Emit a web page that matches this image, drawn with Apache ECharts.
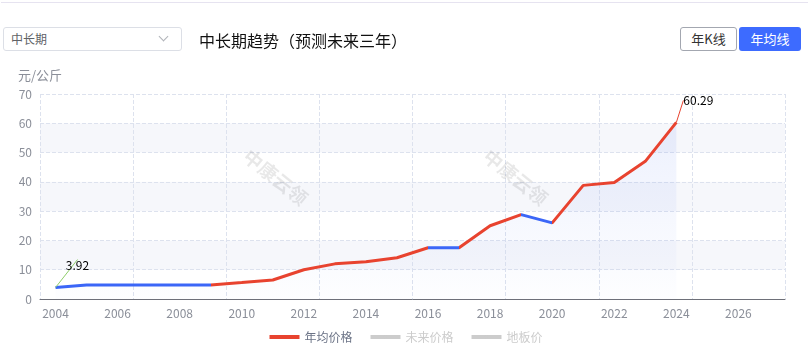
<!DOCTYPE html>
<html lang="zh">
<head>
    <meta charset="utf-8">
    <title>中长期趋势</title>
    <script src="https://cdn.jsdelivr.net/npm/echarts@6/dist/echarts.min.js"></script>
    <style>
        body { margin: 0; width: 810px; height: 354px; position: relative; overflow: hidden;
               font-family: "Noto Sans CJK SC", "Noto Sans", sans-serif; background: #fff; }
        #topline { position: absolute; left: 1px; top: 2px; width: 807px; height: 1px; background: #e6e3f0; }
        #chart { position: absolute; left: 0; top: 0; width: 810px; height: 354px; }
        .sel { position: absolute; left: 3px; top: 27px; width: 170px; height: 22px; border: 1px solid #dcdfe6;
               border-radius: 3px; font-size: 12px; color: #606266; line-height: 22px; padding-left: 7px; z-index: 2; background: #fff; }
        .sel .arrow { position: absolute; right: 14px; top: 5px; width: 6px; height: 6px;
                      border-right: 1px solid #b0b3b9; border-bottom: 1px solid #b0b3b9; transform: rotate(45deg); }
        .title { position: absolute; left: 199px; top: 28px; font-size: 16px; color: #111; z-index: 2; }
        .btn { position: absolute; top: 27px; height: 22px; font-size: 13px; line-height: 22px; text-align: center;
               border-radius: 3px; z-index: 2; }
        .btn1 { left: 680px; width: 55px; border: 1px solid #a3a7b0; color: #333; background: #fff; }
        .btn2 { left: 739px; width: 62px; height: 24px; line-height: 24px; background: #3d6bff; color: #fff; }
    </style>
</head>
<body>
<div id="topline"></div>
<div id="chart"></div>
<div class="sel">中长期<span class="arrow"></span></div>
<div class="title">中长期趋势（预测未来三年）</div>
<div class="btn btn1">年K线</div>
<div class="btn btn2">年均线</div>

<script type="text/javascript">
    // 年份
    var years = ['2004', '2005', '2006', '2007', '2008', '2009', '2010', '2011', '2012', '2013', '2014', '2015',
                 '2016', '2017', '2018', '2019', '2020', '2021', '2022', '2023', '2024', '2025', '2026', '2027'];
    // 年均价格
    var avgPrice = [3.92, 4.8, 4.8, 4.8, 4.8, 4.8, 5.6, 6.5, 10.0, 12.0, 12.7, 14.1,
                    17.5, 17.5, 25.0, 28.8, 26.0, 38.8, 39.8, 47.0, 60.29];
    var futurePrice = [];
    var floorPrice = [];
    var legendNames = ['年均价格', '未来价格', '地板价'];

    var RED = '#e8432f';
    var BLUE = '#3b66f7';

    var myChart = echarts.init(document.getElementById('chart'));

    var avgData = avgPrice.map(function (v, i) {
        if (i === 0 || i === avgPrice.length - 1) {
            return {
                value: v,
                label: { show: true },
                labelLine: { show: true, lineStyle: { color: i === 0 ? '#8fce6a' : RED, width: 1 } }
            };
        }
        return v;
    });

    var wmStyle = { text: '中康云领', fill: 'rgba(0,0,0,0.09)', fontSize: 19, fontWeight: 'bold',
                    fontFamily: '"Noto Sans CJK SC"' };

    var option = {
        textStyle: { fontFamily: '"Noto Sans CJK SC", sans-serif' },
        grid: { left: 40, right: 25, top: 94, bottom: 55 },
        graphic: [
            { type: 'text', x: 252, y: 146, rotation: -0.68, silent: true, z: 100, style: wmStyle },
            { type: 'text', x: 492, y: 146, rotation: -0.68, silent: true, z: 100, style: wmStyle }
        ],
        legend: {
            bottom: 6,
            left: 'center',
            itemWidth: 30,
            itemHeight: 4,
            itemGap: 16,
            data: legendNames,
            selected: { '未来价格': false, '地板价': false },
            textStyle: { color: '#6b7386', fontSize: 12 },
            inactiveColor: '#cccccc',
            lineStyle: { width: 4, inactiveColor: '#cccccc', inactiveWidth: 4 }
        },
        visualMap: {
            show: false,
            type: 'piecewise',
            seriesIndex: 0,
            dimension: 0,
            pieces: [
                { lte: 5, color: BLUE },
                { gt: 5, lte: 12, color: RED },
                { gt: 12, lte: 13, color: BLUE },
                { gt: 13, lte: 15, color: RED },
                { gt: 15, lte: 16, color: BLUE },
                { gt: 16, color: RED }
            ]
        },
        xAxis: {
            type: 'category',
            data: years,
            boundaryGap: true,
            axisLine: { lineStyle: { color: '#6e7079' } },
            axisTick: { interval: 1, alignWithLabel: false },
            axisLabel: { interval: 1, color: '#8b8f99', fontSize: 12 },
            splitLine: { show: true, interval: 2, lineStyle: { type: 'dashed', color: '#dde2ee' } }
        },
        yAxis: {
            type: 'value',
            min: 0,
            max: 70,
            interval: 10,
            name: '元/公斤',
            nameGap: 12,
            nameTextStyle: { color: '#8b8f99', fontSize: 13 },
            axisLabel: { color: '#8b8f99', fontSize: 12 },
            splitLine: { lineStyle: { type: 'dashed', color: '#dde2ee' } },
            splitArea: { show: true, areaStyle: { color: ['#ffffff', '#f6f7fb'] } }
        },
        series: [
            {
                name: '年均价格',
                type: 'line',
                data: avgData,
                symbol: 'circle',
                symbolSize: 0,
                showSymbol: true,
                showAllSymbol: true,
                color: RED,
                lineStyle: { width: 3 },
                label: { show: false, position: 'top', color: '#000', fontSize: 12, padding: [0, 0, 6, 0] },
                labelLayout: { dx: 22, dy: -5 },
                areaStyle: {
                    color: new echarts.graphic.LinearGradient(0, 0, 0, 1, [
                        { offset: 0, color: 'rgba(70,110,240,0.14)' },
                        { offset: 1, color: 'rgba(70,110,240,0.01)' }
                    ])
                }
            },
            {
                name: '未来价格',
                type: 'line',
                data: futurePrice,
                symbol: 'none',
                color: '#cccccc',
                lineStyle: { width: 4, type: 'dashed' }
            },
            {
                name: '地板价',
                type: 'line',
                data: floorPrice,
                symbol: 'none',
                color: '#cccccc',
                lineStyle: { width: 4 }
            }
        ]
    };
    myChart.setOption(option);

    window.onresize = function () {
        myChart.resize();
    };
</script>
</body>
</html>
